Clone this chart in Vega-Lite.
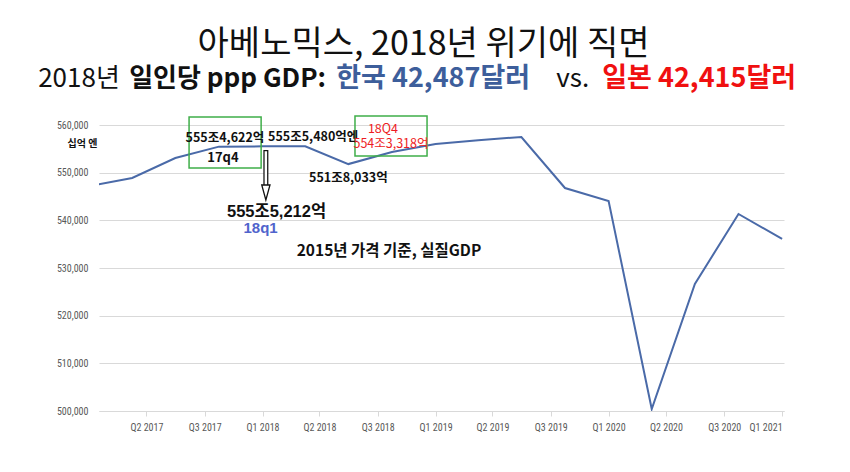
{
  "$schema": "https://vega.github.io/schema/vega-lite/v6.json",
  "autosize": {"type": "none"},
  "padding": {"left": 99, "top": 125, "right": 66, "bottom": 61},
  "width": 685,
  "height": 286,
  "background": "#ffffff",
  "view": {"fill": "#ffffff", "stroke": null},
  "title": {
    "text": "아베노믹스, 2018년 위기에 직면",
    "font": "Noto Sans CJK KR",
    "fontSize": 34,
    "fontWeight": "normal",
    "color": "#111111",
    "anchor": "middle",
    "frame": "group",
    "dx": -18,
    "offset": 3
  },
  "layer": [
    {
      "data": {
        "values": [
          {"q": "2017-01-01", "v": 547200},
          {"q": "2017-04-01", "v": 548880},
          {"q": "2017-07-01", "v": 553080},
          {"q": "2017-10-01", "v": 555462},
          {"q": "2018-01-01", "v": 555521},
          {"q": "2018-04-01", "v": 555548},
          {"q": "2018-07-01", "v": 551803},
          {"q": "2018-10-01", "v": 554332},
          {"q": "2019-01-01", "v": 556010},
          {"q": "2019-04-01", "v": 556800},
          {"q": "2019-07-01", "v": 557480},
          {"q": "2019-10-01", "v": 546780},
          {"q": "2020-01-01", "v": 544060},
          {"q": "2020-04-01", "v": 500420},
          {"q": "2020-07-01", "v": 526650},
          {"q": "2020-10-01", "v": 541330},
          {"q": "2021-01-01", "v": 536090}
        ]
      },
      "mark": {"type": "line", "clip": true, "color": "#4a6aa8", "strokeWidth": 2},
      "encoding": {
        "x": {
          "field": "q",
          "type": "temporal",
          "title": null,
          "scale": {
            "type": "utc",
            "domain": [
              {"year": 2017, "month": 1, "date": 21, "utc": true},
              {"year": 2021, "month": 1, "date": 5, "utc": true}
            ]
          },
          "axis": {
            "values": [
              {"year": 2017, "month": 5, "date": 1, "utc": true},
              {"year": 2017, "month": 9, "date": 1, "utc": true},
              {"year": 2018, "month": 1, "date": 1, "utc": true},
              {"year": 2018, "month": 5, "date": 1, "utc": true},
              {"year": 2018, "month": 9, "date": 1, "utc": true},
              {"year": 2019, "month": 1, "date": 1, "utc": true},
              {"year": 2019, "month": 5, "date": 1, "utc": true},
              {"year": 2019, "month": 9, "date": 1, "utc": true},
              {"year": 2020, "month": 1, "date": 1, "utc": true},
              {"year": 2020, "month": 5, "date": 1, "utc": true},
              {"year": 2020, "month": 9, "date": 1, "utc": true},
              {"year": 2021, "month": 1, "date": 1, "utc": true}
            ],
            "format": "Q%q %Y",
            "labelFont": "Liberation Sans Narrow, Roboto Condensed, Liberation Sans",
            "labelFontSize": 10,
            "labelColor": "#595959",
            "labelPadding": 6,
            "labelFlush": 5,
            "labelOverlap": false,
            "tickColor": "#d9d9d9",
            "tickSize": 5,
            "domainColor": "#d9d9d9",
            "grid": false
          }
        },
        "y": {
          "field": "v",
          "type": "quantitative",
          "scale": {"domain": [500000, 560000], "nice": false, "zero": false},
          "axis": {
            "values": [500000, 510000, 520000, 530000, 540000, 550000, 560000],
            "format": ",d",
            "labelFont": "Liberation Sans Narrow, Roboto Condensed, Liberation Sans",
            "labelFontSize": 10,
            "labelColor": "#595959",
            "labelPadding": 11,
            "ticks": false,
            "tickSize": 0,
            "domain": false,
            "grid": true,
            "gridColor": "#d9d9d9",
            "gridWidth": 1,
            "title": "십억 엔",
            "titleAngle": 0,
            "titleX": -17,
            "titleY": 18,
            "titleAlign": "center",
            "titleBaseline": "middle",
            "titleFont": "Noto Sans CJK KR",
            "titleFontSize": 10,
            "titleFontWeight": "bold",
            "titleColor": "#111111"
          }
        }
      }
    },
    {
      "mark": {"type": "rect", "fillOpacity": 0, "stroke": "#3fae49", "strokeWidth": 1.5, "clip": false},
      "data": {"values": [{"box": "17q4"}]},
      "encoding": {
        "x": {"datum": {"year": 2017, "month": 7, "date": 30, "utc": true}, "type": "temporal"},
        "x2": {"datum": {"year": 2017, "month": 12, "date": 29, "utc": true}},
        "y": {"datum": 561678, "type": "quantitative"},
        "y2": {"datum": 550980}
      }
    },
    {
      "mark": {"type": "rect", "fillOpacity": 0, "stroke": "#3fae49", "strokeWidth": 1.5, "clip": false},
      "data": {"values": [{"box": "18q4"}]},
      "encoding": {
        "x": {"datum": {"year": 2018, "month": 7, "date": 15, "utc": true}, "type": "temporal"},
        "x2": {"datum": {"year": 2018, "month": 12, "date": 14, "utc": true}},
        "y": {"datum": 561888, "type": "quantitative"},
        "y2": {"datum": 553497}
      }
    },
    {
      "mark": {"type": "rule", "color": "#111111", "strokeWidth": 5},
      "data": {"values": [{"arrow": "18q1"}]},
      "encoding": {
        "x": {"datum": {"year": 2018, "month": 1, "date": 8, "utc": true}, "type": "temporal"},
        "y": {"datum": 554756, "type": "quantitative"},
        "y2": {"datum": 547204}
      }
    },
    {
      "mark": {"type": "rule", "color": "#ffffff", "strokeWidth": 2.5},
      "data": {"values": [{"arrow": "18q1"}]},
      "encoding": {
        "x": {"datum": {"year": 2018, "month": 1, "date": 8, "utc": true}, "type": "temporal"},
        "y": {"datum": 554500, "type": "quantitative"},
        "y2": {"datum": 546800}
      }
    },
    {
      "mark": {"type": "point", "shape": "M-0.55,-1L0.55,-1L0,1Z", "size": 225, "filled": true, "fill": "#ffffff", "stroke": "#111111", "strokeWidth": 1.3, "opacity": 1},
      "data": {"values": [{"arrow": "18q1"}]},
      "encoding": {
        "x": {"datum": {"year": 2018, "month": 1, "date": 8, "utc": true}, "type": "temporal"},
        "y": {"datum": 545840, "type": "quantitative"}
      }
    },
    {
      "mark": {"type": "text", "font": "Liberation Sans Narrow, Noto Sans CJK KR", "fontSize": 12.5, "fontWeight": "bold", "color": "#111111", "dx": 6, "dy": -9, "baseline": "middle"},
      "data": {"values": [{"q": "2017-10-01", "v": 555462, "label": "555조4,622억"}]},
      "encoding": {"x": {"field": "q", "type": "temporal"}, "y": {"field": "v", "type": "quantitative"}, "text": {"field": "label"}}
    },
    {
      "mark": {"type": "text", "font": "Liberation Sans Narrow, Noto Sans CJK KR", "fontSize": 13, "fontWeight": "bold", "color": "#111111", "dx": 4, "dy": 11, "baseline": "middle"},
      "data": {"values": [{"q": "2017-10-01", "v": 555462, "label": "17q4"}]},
      "encoding": {"x": {"field": "q", "type": "temporal"}, "y": {"field": "v", "type": "quantitative"}, "text": {"field": "label"}}
    },
    {
      "mark": {"type": "text", "font": "Liberation Sans, Noto Sans CJK KR", "fontSize": 16.5, "fontWeight": "bold", "color": "#111111", "dx": 14, "dy": 66, "baseline": "middle"},
      "data": {"values": [{"q": "2018-01-01", "v": 555521, "label": "555조5,212억"}]},
      "encoding": {"x": {"field": "q", "type": "temporal"}, "y": {"field": "v", "type": "quantitative"}, "text": {"field": "label"}}
    },
    {
      "mark": {"type": "text", "font": "Liberation Sans, Noto Sans CJK KR", "fontSize": 15, "fontWeight": "bold", "color": "#5064cc", "dx": -2, "dy": 82, "baseline": "middle"},
      "data": {"values": [{"q": "2018-01-01", "v": 555521, "label": "18q1"}]},
      "encoding": {"x": {"field": "q", "type": "temporal"}, "y": {"field": "v", "type": "quantitative"}, "text": {"field": "label"}}
    },
    {
      "mark": {"type": "text", "font": "Liberation Sans Narrow, Noto Sans CJK KR", "fontSize": 12.5, "fontWeight": "bold", "color": "#111111", "dx": 8, "dy": -9, "baseline": "middle"},
      "data": {"values": [{"q": "2018-04-01", "v": 555548, "label": "555조5,480억엔"}]},
      "encoding": {"x": {"field": "q", "type": "temporal"}, "y": {"field": "v", "type": "quantitative"}, "text": {"field": "label"}}
    },
    {
      "mark": {"type": "text", "font": "Liberation Sans Narrow, Noto Sans CJK KR", "fontSize": 12.5, "fontWeight": "bold", "color": "#111111", "dx": 0, "dy": 14, "baseline": "middle"},
      "data": {"values": [{"q": "2018-07-01", "v": 551803, "label": "551조8,033억"}]},
      "encoding": {"x": {"field": "q", "type": "temporal"}, "y": {"field": "v", "type": "quantitative"}, "text": {"field": "label"}}
    },
    {
      "mark": {"type": "text", "font": "Liberation Sans Narrow, Noto Sans CJK KR", "fontSize": 12.5, "fontWeight": "normal", "color": "#ee1c24", "dx": -9, "dy": -23, "baseline": "middle"},
      "data": {"values": [{"q": "2018-10-01", "v": 554332, "label": "18Q4"}]},
      "encoding": {"x": {"field": "q", "type": "temporal"}, "y": {"field": "v", "type": "quantitative"}, "text": {"field": "label"}}
    },
    {
      "mark": {"type": "text", "font": "Liberation Sans Narrow, Noto Sans CJK KR", "fontSize": 12.5, "fontWeight": "normal", "color": "#ee1c24", "dx": -1, "dy": -8, "baseline": "middle"},
      "data": {"values": [{"q": "2018-10-01", "v": 554332, "label": "554조3,318억"}]},
      "encoding": {"x": {"field": "q", "type": "temporal"}, "y": {"field": "v", "type": "quantitative"}, "text": {"field": "label"}}
    },
    {
      "mark": {"type": "text", "font": "Liberation Sans Narrow, Noto Sans CJK KR", "fontSize": 15.5, "fontWeight": "bold", "color": "#111111", "dx": -3, "baseline": "middle"},
      "data": {"values": [{"label": "2015년 가격 기준, 실질GDP"}]},
      "encoding": {
        "x": {"datum": {"year": 2018, "month": 10, "date": 1, "utc": true}, "type": "temporal"},
        "y": {"datum": 533569, "type": "quantitative"},
        "text": {"field": "label"}
      }
    },
    {
      "mark": {"type": "text", "font": "Noto Sans CJK KR", "fontSize": 26, "fontWeight": "normal", "color": "#111111", "align": "left", "baseline": "middle", "dx": -94},
      "data": {"values": [{"part": "2018년"}]},
      "encoding": {
        "x": {"datum": {"year": 2017, "month": 4, "date": 1, "utc": true}, "type": "temporal"},
        "y": {"datum": 569755, "type": "quantitative"},
        "text": {"field": "part"}
      }
    },
    {
      "mark": {"type": "text", "font": "Noto Sans CJK KR", "fontSize": 26, "fontWeight": "bold", "color": "#111111", "align": "left", "baseline": "middle", "dx": -3},
      "data": {"values": [{"part": "일인당 ppp GDP:"}]},
      "encoding": {
        "x": {"datum": {"year": 2017, "month": 4, "date": 1, "utc": true}, "type": "temporal"},
        "y": {"datum": 569755, "type": "quantitative"},
        "text": {"field": "part"}
      }
    },
    {
      "mark": {"type": "text", "font": "Noto Sans CJK KR", "fontSize": 27, "fontWeight": "bold", "color": "#3d5e9b", "align": "left", "baseline": "middle", "dx": 204},
      "data": {"values": [{"part": "한국 42,487달러"}]},
      "encoding": {
        "x": {"datum": {"year": 2017, "month": 4, "date": 1, "utc": true}, "type": "temporal"},
        "y": {"datum": 569755, "type": "quantitative"},
        "text": {"field": "part"}
      }
    },
    {
      "mark": {"type": "text", "font": "Noto Sans CJK KR", "fontSize": 26, "fontWeight": "normal", "color": "#111111", "align": "left", "baseline": "middle", "dx": 424},
      "data": {"values": [{"part": "vs."}]},
      "encoding": {
        "x": {"datum": {"year": 2017, "month": 4, "date": 1, "utc": true}, "type": "temporal"},
        "y": {"datum": 569755, "type": "quantitative"},
        "text": {"field": "part"}
      }
    },
    {
      "mark": {"type": "text", "font": "Noto Sans CJK KR", "fontSize": 27, "fontWeight": "bold", "color": "#f01010", "align": "left", "baseline": "middle", "dx": 470},
      "data": {"values": [{"part": "일본 42,415달러"}]},
      "encoding": {
        "x": {"datum": {"year": 2017, "month": 4, "date": 1, "utc": true}, "type": "temporal"},
        "y": {"datum": 569755, "type": "quantitative"},
        "text": {"field": "part"}
      }
    }
  ]
}
